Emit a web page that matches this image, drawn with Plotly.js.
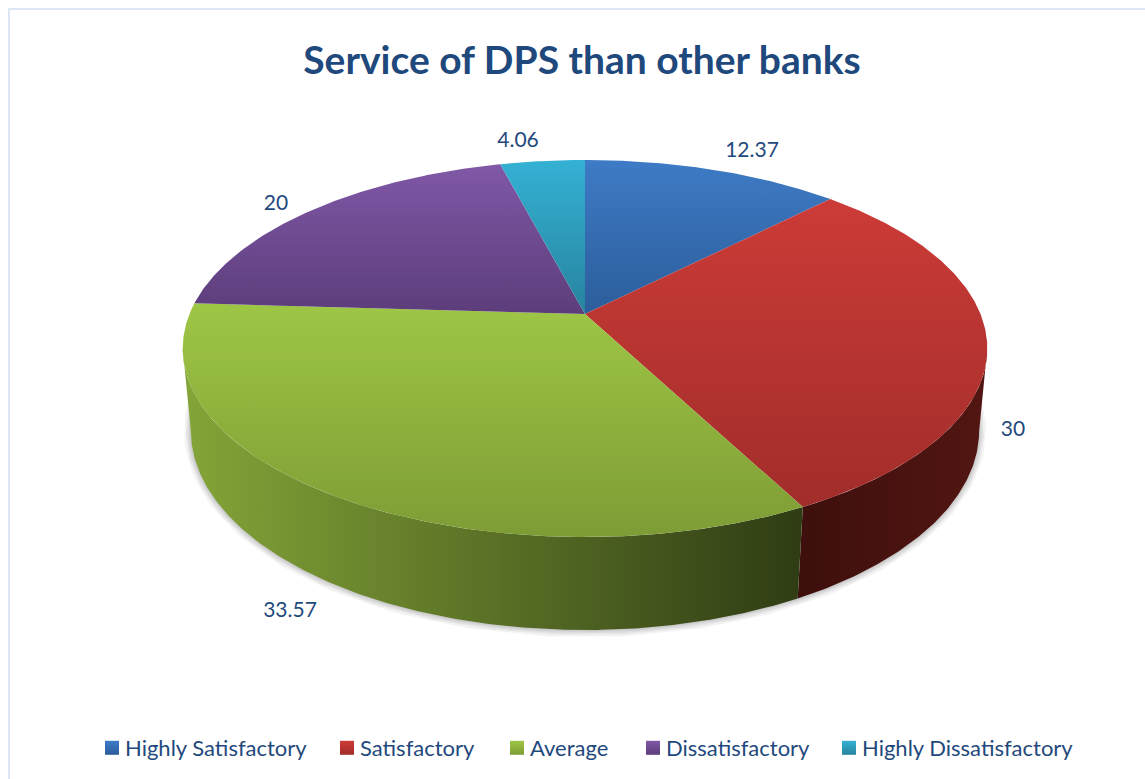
<!DOCTYPE html>
<html>
<head>
<meta charset="utf-8">
<script src="https://cdn.plot.ly/plotly-3.0.1.min.js"></script>
<style>html,body{margin:0;padding:0;background:#fff}#chart{width:1145px;height:779px}</style>
</head>
<body>
<div id="chart"></div>
<script>
// Survey shares, in percent, clockwise from twelve o'clock
const categories = ['Highly Satisfactory', 'Satisfactory', 'Average', 'Dissatisfactory', 'Highly Dissatisfactory'];
const values = [12.37, 30, 33.57, 20, 4.06];

// Face shading per slice: [lighter, darker]
const topShades = [['#3e7bc6', '#2c5d9b'], ['#cc3b37', '#a12d2a'], ['#9ec645', '#7e9c35'], ['#8058a7', '#5c3d7a'], ['#34b1d4', '#27839e']];
const wallShades = [['#2c5d9b', '#1c3c66'], ['#3d0f0d', '#521612'], ['#84a538', '#2f3c14'], ['#4f3468', '#3a2550'], ['#1f6a80', '#174f60']];

// Label anchors and legend placement on the page
const labelX = [752, 1013, 290, 276, 518];
const labelY = [152, 431, 612, 205, 142];
const legendLeft = [85, 320, 490, 626, 822];

// Perspective of the tilted disc
const CX = 585, CY = 314, A = 395.5, B = 182.2, K = 0.183, H = 82.3, M = 0.02;
function project(deg, z) {
  const t = deg * Math.PI / 180, u = Math.sin(t), v = Math.cos(t), w = 1 + K * v + M * z;
  return [CX + A * u / w, CY + (-B * v + H * z) / w];
}
function arc(from, to, z) {
  const pts = [], n = Math.max(2, Math.ceil(Math.abs(to - from) * 2));
  for (let i = 0; i <= n; i++) pts.push(project(from + (to - from) * i / n, z));
  return pts;
}
function polygon(pts) {
  return {x: pts.map(p => p[0]), y: pts.map(p => p[1])};
}

const total = values.reduce((a, b) => a + b, 0);
let running = 0;
const slices = values.map(v => {
  const from = running / total * 360;
  running += v;
  return {from, to: running / total * 360};
});

const traces = [];

// Soft shadow around the foot of the disc
[14, 10, 7, 4, 2].forEach(width => {
  const ring = polygon(arc(0, 360, 1));
  traces.push({x: ring.x, y: ring.y, mode: 'lines', showlegend: false, hoverinfo: 'skip',
    line: {color: 'rgba(90,90,90,0.07)', width}});
});

// Side walls: only the part of the rim that faces the viewer
const FRONT_FROM = 180 - Math.acos(K) * 180 / Math.PI, FRONT_TO = 360 - FRONT_FROM;
slices.forEach((s, i) => {
  const from = Math.max(s.from, FRONT_FROM), to = Math.min(s.to, FRONT_TO);
  if (to <= from) return;
  const pts = polygon(arc(from, to, 0).concat(arc(to, from, 1)));
  traces.push({x: pts.x, y: pts.y, mode: 'lines', fill: 'toself', showlegend: false, hoverinfo: 'skip',
    line: {width: 0, color: wallShades[i][0]},
    fillgradient: {type: 'horizontal', colorscale: [[0, wallShades[i][0]], [1, wallShades[i][1]]]}});
});

// Top faces (the y axis runs downward, so the darker shade comes first)
slices.forEach((s, i) => {
  const pts = polygon([[CX, CY]].concat(arc(s.from, s.to, 0)).concat([[CX, CY]]));
  traces.push({x: pts.x, y: pts.y, mode: 'lines', fill: 'toself', name: categories[i], showlegend: false,
    hoverinfo: 'name', line: {width: 0, color: topShades[i][0]},
    fillgradient: {type: 'vertical', colorscale: [[0, topShades[i][1]], [1, topShades[i][0]]]}});
});

// Value labels
traces.push({x: labelX, y: labelY, mode: 'text', text: values.map(String), textposition: 'middle center',
  textfont: {family: 'Lato, sans-serif', size: 21, color: '#1f497d'}, showlegend: false, hoverinfo: 'skip'});

// One legend per category so each entry sits at its own place;
// the standoff pulls the swatch closer to its text
const layoutLegends = {};
categories.forEach((c, i) => {
  const key = i === 0 ? 'legend' : 'legend' + (i + 1);
  traces.push({x: [null], y: [null], mode: 'markers', name: c, legend: key, showlegend: true,
    marker: {symbol: 'square', size: 14, angle: 90, standoff: 7, color: topShades[i][0], gradient: {type: 'vertical', color: topShades[i][1]}}});
  layoutLegends[key] = {x: legendLeft[i] / 1145, y: 1 - 748 / 779, xanchor: 'left', yanchor: 'middle',
    bgcolor: 'rgba(0,0,0,0)', borderwidth: 0, itemclick: false, itemdoubleclick: false,
    font: {family: 'Lato, sans-serif', size: 22, color: '#1f497d'}};
});

const layout = Object.assign({
  width: 1145, height: 779,
  margin: {l: 0, r: 0, t: 0, b: 0},
  paper_bgcolor: '#ffffff', plot_bgcolor: '#ffffff',
  title: {text: '<b>Service of DPS than other banks</b>', x: 582 / 1145, xanchor: 'center', y: 1 - 60 / 779, yanchor: 'middle',
    font: {family: 'Lato, sans-serif', size: 39, color: '#1f497d'}},
  xaxis: {range: [0, 1145], visible: false, fixedrange: true},
  yaxis: {range: [779, 0], visible: false, fixedrange: true},
  shapes: [{type: 'rect', xref: 'paper', yref: 'paper', x0: 9 / 1145, x1: 1.01, y0: -0.01, y1: 1 - 9 / 779,
    line: {color: '#dce6f4', width: 2}, fillcolor: 'rgba(0,0,0,0)', layer: 'below'}]
}, layoutLegends);

Plotly.newPlot('chart', traces, layout, {displayModeBar: false, responsive: false});
</script>
</body>
</html>
